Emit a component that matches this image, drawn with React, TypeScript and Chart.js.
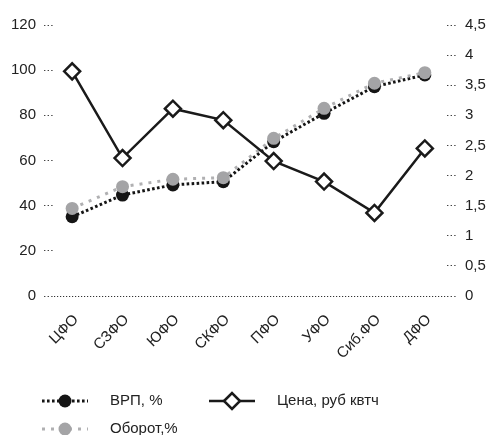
import { useEffect, useRef } from 'react';
import { Chart, registerables } from 'chart.js';

Chart.register(...registerables);

const categories = ['ЦФО', 'СЗФО', 'ЮФО', 'СКФО', 'ПФО', 'УФО', 'Сиб.ФО', 'ДФО'];
const vrp = [35.1, 44.7, 49.2, 50.6, 68.3, 80.9, 92.7, 97.9];
const oborot = [38.8, 48.4, 51.7, 52.4, 69.8, 83.1, 94.2, 98.9];
const price = [3.73, 2.29, 3.11, 2.92, 2.24, 1.9, 1.38, 2.45];
const leftMax = 120;
const leftStep = 20;
const rightMax = 4.5;
const rightStep = 0.5;

const FONT = "'Liberation Sans', Arial, sans-serif";
const TEXT = '#222';

export default function App() {
  const ref = useRef<HTMLCanvasElement>(null);

  useEffect(() => {
    document.body.style.margin = '0';
    const canvas = ref.current!;
    const toXY = (arr: number[]) => arr.map((v, i) => ({ x: i, y: v }));

    const legendPlugin = {
      id: 'customLegend',
      afterDraw(chart: any) {
        const c = chart.ctx as CanvasRenderingContext2D;
        const ds = chart.data.datasets;
        const items = [
          { d: ds[2], x: 42, y: 401 },
          { d: ds[0], x: 209, y: 401 },
          { d: ds[1], x: 42, y: 429 },
        ];
        c.save();
        for (const it of items) {
          const d: any = it.d;
          const lineW = 46;
          c.beginPath();
          c.setLineDash(d.borderDash || []);
          c.lineWidth = d.borderWidth;
          c.strokeStyle = d.borderColor;
          c.moveTo(it.x, it.y);
          c.lineTo(it.x + lineW, it.y);
          c.stroke();
          c.setLineDash([]);
          const cx = it.x + lineW / 2;
          const r = d.pointRadius;
          c.beginPath();
          if (d.pointStyle === 'rectRot') {
            c.moveTo(cx - r, it.y);
            c.lineTo(cx, it.y - r);
            c.lineTo(cx + r, it.y);
            c.lineTo(cx, it.y + r);
            c.closePath();
            c.fillStyle = d.pointBackgroundColor;
            c.fill();
            c.lineWidth = d.pointBorderWidth;
            c.strokeStyle = d.pointBorderColor;
            c.stroke();
          } else {
            c.arc(cx, it.y, r, 0, Math.PI * 2);
            c.fillStyle = d.pointBackgroundColor;
            c.fill();
          }
          c.fillStyle = TEXT;
          c.font = `15px ${FONT}`;
          c.textBaseline = 'middle';
          c.textAlign = 'left';
          c.fillText(d.label, it.x + lineW + 22, it.y);
        }
        c.restore();
      },
    };

    const chart = new Chart(canvas, {
      type: 'line',
      data: {
        datasets: [
          {
            label: 'Цена, руб квтч',
            data: toXY(price),
            yAxisID: 'y1',
            borderColor: '#1a1a1a',
            borderWidth: 2.5,
            pointStyle: 'rectRot',
            pointRadius: 8,
            pointBackgroundColor: '#ffffff',
            pointBorderColor: '#1a1a1a',
            pointBorderWidth: 2.5,
            order: 0,
          },
          {
            label: 'Оборот,%',
            data: toXY(oborot),
            yAxisID: 'y',
            borderColor: '#b0b0b2',
            borderWidth: 3,
            borderDash: [3, 6],
            pointStyle: 'circle',
            pointRadius: 6.5,
            pointBackgroundColor: '#a4a4a6',
            pointBorderColor: '#a4a4a6',
            pointBorderWidth: 0,
            order: 1,
          },
          {
            label: 'ВРП, %',
            data: toXY(vrp),
            yAxisID: 'y',
            borderColor: '#151515',
            borderWidth: 3,
            borderDash: [2.6, 2.4],
            pointStyle: 'circle',
            pointRadius: 6.5,
            pointBackgroundColor: '#151515',
            pointBorderColor: '#151515',
            pointBorderWidth: 0,
            order: 2,
          },
        ] as any,
      },
      options: {
        animation: false,
        responsive: true,
        maintainAspectRatio: false,
        layout: { padding: { top: 25, left: 0, right: 0, bottom: 0 } },
        plugins: { legend: { display: false }, tooltip: { enabled: false } },
        elements: { line: { tension: 0 } },
        scales: {
          x: {
            type: 'linear',
            min: -0.36,
            max: 7.44,
            grid: { display: false },
            border: { display: false },
            afterBuildTicks: (s: any) => {
              s.ticks = categories.map((_, i) => ({ value: i }));
            },
            afterFit: (s: any) => {
              s.height = 139;
            },
            ticks: {
              autoSkip: false,
              minRotation: 45,
              maxRotation: 45,
              padding: 7,
              labelOffset: 4,
              color: TEXT,
              font: { family: FONT, size: 15 },
              callback: (v: any) => categories[v as number] ?? '',
            },
          },
          y: {
            position: 'left',
            min: 0,
            max: leftMax,
            afterFit: (s: any) => {
              s.width = 54;
            },
            border: { display: false, dash: [1.2, 1.8] },
            grid: {
              color: (ctx: any) => (ctx.tick && ctx.tick.value === 0 ? '#333' : 'rgba(0,0,0,0)'),
              lineWidth: 1,
              tickLength: 10,
              tickColor: '#444',
              tickBorderDash: [1.4, 2.2],
              tickWidth: 1,
            } as any,
            ticks: {
              stepSize: leftStep,
              padding: 8,
              color: TEXT,
              font: { family: FONT, size: 15 },
            },
          },
          y1: {
            position: 'right',
            min: 0,
            max: rightMax,
            afterFit: (s: any) => {
              s.width = 44;
            },
            border: { display: false },
            grid: {
              drawOnChartArea: false,
              tickLength: 10,
              tickColor: '#444',
              tickBorderDash: [1.4, 2.2],
              tickWidth: 1,
            } as any,
            ticks: {
              stepSize: rightStep,
              padding: 8,
              color: TEXT,
              font: { family: FONT, size: 15 },
              callback: (v: any) => String(v).replace('.', ','),
            },
          },
        },
      },
      plugins: [legendPlugin],
    });

    return () => chart.destroy();
  }, []);

  return (
    <div style={{ position: 'fixed', left: 0, top: 0, width: '491px', height: '435px', background: '#fff' }}>
      <canvas ref={ref} />
    </div>
  );
}
